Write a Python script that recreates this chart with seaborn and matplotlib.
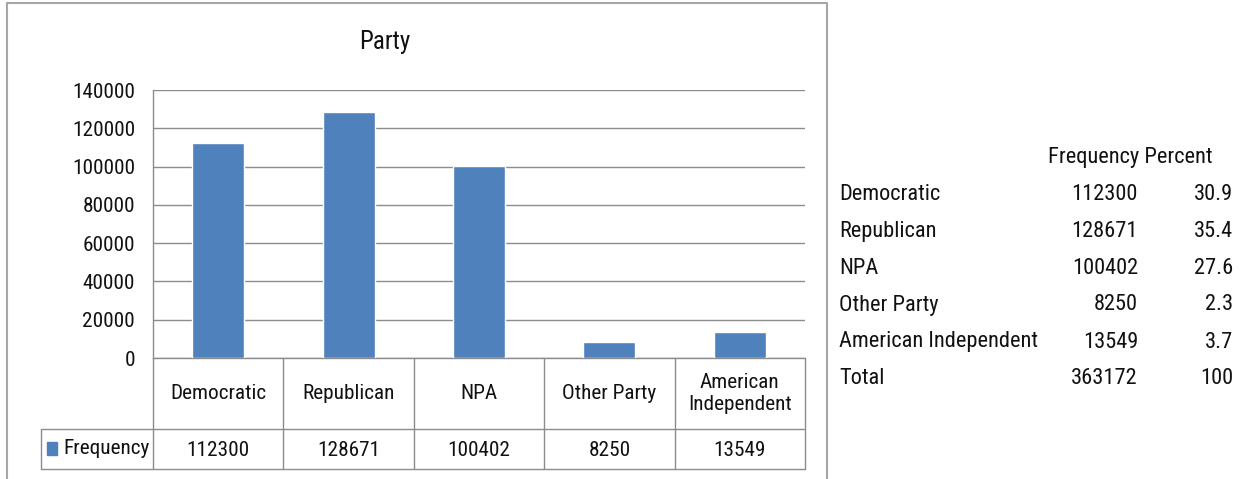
import matplotlib
matplotlib.use('Agg')
import matplotlib.pyplot as plt
import seaborn as sns
import pandas as pd

parties = ['Democratic', 'Republican', 'NPA', 'Other Party', 'American Independent']
party_labels = ['Democratic', 'Republican', 'NPA', 'Other Party', 'American\nIndependent']
frequency = [112300, 128671, 100402, 8250, 13549]
percent = ['30.9', '35.4', '27.6', '2.3', '3.7']
total_freq = 363172
total_pct = '100'
yticks = [0, 20000, 40000, 60000, 80000, 100000, 120000, 140000]

sns.set_style('white')
plt.rcParams['font.family'] = ['Liberation Sans Narrow', 'Roboto Condensed', 'Lato', 'DejaVu Sans']

BLUE = '#4F81BD'
GRID = '#8C8C8C'
TXT = '#111111'

W, H = 1246, 479
fig = plt.figure(figsize=(W / 100, H / 100), dpi=100)

# background overlay in pixel coords for box, table and right-hand text table
bg = fig.add_axes([0, 0, 1, 1], zorder=0)
bg.set_xlim(0, W)
bg.set_ylim(H, 0)
bg.axis('off')

# plot area (pixels)
pl, pr, pt, pb = 153, 805, 90, 358
ax = fig.add_axes([pl / W, 1 - pb / H, (pr - pl) / W, (pb - pt) / H], zorder=2)
df = pd.DataFrame({'Party': parties, 'Frequency': frequency})
sns.barplot(data=df, x='Party', y='Frequency', color=BLUE, width=0.4,
            saturation=1, ax=ax, zorder=3)
ax.set_xlim(-0.5, len(parties) - 0.5)
ax.set_ylim(0, 140000)
ax.set_yticks(yticks)
ax.set_yticklabels([str(t) for t in yticks], fontsize=15.3, color=TXT)
ax.set_xticks([])
ax.set_xlabel('')
ax.set_ylabel('')
ax.tick_params(axis='y', length=0, pad=13)
ax.yaxis.grid(True, color=GRID, lw=1)
ax.set_axisbelow(True)
ax.patch.set_alpha(0)
for s in ['top', 'right', 'bottom']:
    ax.spines[s].set_visible(False)
ax.spines['left'].set_color(GRID)
ax.spines['left'].set_linewidth(1)

# outer chart border
bg.plot([7, 7, 827, 827], [H, 3, 3, H], color='#A6A6A6', lw=1.5)
bg.text(385, 42, 'Party', fontsize=18, ha='center', va='center', color=TXT)

# data table under the chart
cw = (pr - pl) / len(parties)
row1, row2, row3 = pb, 429, 469
leg_left = 41
tfs = 15.3
bg.plot([pl, pr], [row1, row1], color=GRID, lw=1)
bg.plot([leg_left, pr], [row2, row2], color=GRID, lw=1)
bg.plot([leg_left, pr], [row3, row3], color=GRID, lw=1)
bg.plot([leg_left, leg_left], [row2, row3], color=GRID, lw=1)
for i in range(len(parties) + 1):
    x = pl + i * cw
    bg.plot([x, x], [row1, row3], color=GRID, lw=1)
for i, (lab, v) in enumerate(zip(party_labels, frequency)):
    cx = pl + (i + 0.5) * cw
    bg.text(cx, (row1 + row2) / 2, lab, fontsize=tfs, ha='center', va='center',
            color=TXT, linespacing=1.25)
    bg.text(cx, (row2 + row3) / 2 + 1, str(v), fontsize=tfs, ha='center',
            va='center', color=TXT)
bg.add_patch(plt.Rectangle((47, 442), 10, 13, color=BLUE))
bg.text(63, (row2 + row3) / 2, 'Frequency', fontsize=tfs, ha='left', va='center', color=TXT)

# right-hand frequency table
fs = 16.1
bg.text(1213, 157, 'Frequency Percent', fontsize=fs, ha='right', va='center', color=TXT)
rows = list(zip(parties, [str(f) for f in frequency], percent))
rows.append(('Total', str(total_freq), total_pct))
for i, (name, f, p) in enumerate(rows):
    y = 194 + i * 37
    bg.text(839, y, name, fontsize=fs, ha='left', va='center', color=TXT)
    bg.text(1138, y, f, fontsize=fs, ha='right', va='center', color=TXT)
    bg.text(1233, y, p, fontsize=fs, ha='right', va='center', color=TXT)

fig.savefig('out.png', dpi=100)
